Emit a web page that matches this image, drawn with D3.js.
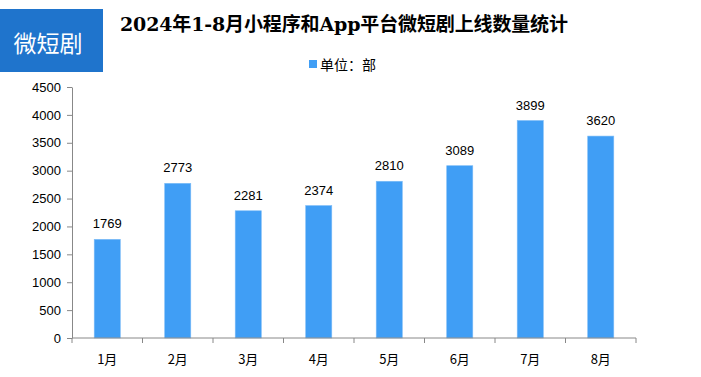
<!DOCTYPE html>
<html>
<head>
<meta charset="utf-8">
<script src="https://cdn.jsdelivr.net/npm/d3@7"></script>
<style>
  body { margin: 0; background: #fff; }
  svg { display: block; }
</style>
</head>
<body>
<script>
const months = ['1月', '2月', '3月', '4月', '5月', '6月', '7月', '8月'];
const counts = [1769, 2773, 2281, 2374, 2810, 3089, 3899, 3620];
const yTicks = [0, 500, 1000, 1500, 2000, 2500, 3000, 3500, 4000, 4500];
const titleText = '2024年1-8月小程序和App平台微短剧上线数量统计';
const badgeText = '微短剧';
const legendText = '单位：部';

let width = 701;
let height = 377;
let margin = {top: 87, right: 65, bottom: 39, left: 72};

let svg = d3.select('body').append('svg').attr('width', width).attr('height', height);

// blue badge top-left
svg.append('rect').attr('x', 0).attr('y', 9).attr('width', 103).attr('height', 63).attr('fill', '#1f74cc');
svg.append('text')
  .attr('x', 48).attr('y', 42)
  .attr('text-anchor', 'middle').attr('dominant-baseline', 'central')
  .attr('fill', '#fff')
  .style('font-family', '"Noto Sans CJK SC", sans-serif')
  .style('font-size', '23px')
  .text(badgeText);

// title
svg.append('text')
  .attr('x', 120).attr('y', 31)
  .attr('textLength', 448)
  .style('font-family', '"DejaVu Serif", "Noto Sans CJK SC", serif')
  .style('font-size', '19px')
  .style('font-weight', 'bold')
  .attr('fill', '#000')
  .text(titleText);

// legend
svg.append('rect').attr('x', 309).attr('y', 60).attr('width', 8).attr('height', 8).attr('fill', '#409ef5');
svg.append('text')
  .attr('x', 320).attr('y', 64)
  .attr('dominant-baseline', 'central')
  .style('font-family', '"Noto Sans CJK SC", sans-serif')
  .style('font-size', '14px')
  .attr('fill', '#000')
  .text(legendText);

let x = d3.scaleBand().domain(months).range([margin.left, width - margin.right]).paddingInner(0.63).paddingOuter(0.315);
let y = d3.scaleLinear().domain([0, 4500]).range([height - margin.bottom, margin.top]);

let g = svg.append('g');

// bars
g.selectAll('rect.bar')
  .data(counts)
  .enter()
    .append('rect')
    .attr('class', 'bar')
    .attr('x', (d, i) => x(months[i]))
    .attr('y', d => y(d))
    .attr('width', x.bandwidth())
    .attr('height', d => y(0) - y(d))
    .attr('fill', '#409ef5')
    .attr('stroke', '#7cbcf7')
    .attr('stroke-width', 0.6);

// value labels
g.selectAll('text.val')
  .data(counts)
  .enter()
    .append('text')
    .attr('class', 'val')
    .attr('x', (d, i) => x(months[i]) + x.bandwidth() / 2)
    .attr('y', d => y(d) - 11)
    .attr('text-anchor', 'middle')
    .style('font-family', 'Arial, "Liberation Sans", sans-serif')
    .style('font-size', '13px')
    .attr('fill', '#000')
    .text(d => d);

// y axis
let yAxis = d3.axisLeft(y).tickValues(yTicks).tickFormat(d3.format('d')).tickSize(5).tickPadding(6).tickSizeOuter(0);
let yg = svg.append('g').attr('transform', `translate(${margin.left},0)`).call(yAxis);
yg.select('.domain').attr('stroke', '#888');
yg.selectAll('.tick line').attr('stroke', '#888');
yg.selectAll('.tick text')
  .style('font-family', 'Arial, "Liberation Sans", sans-serif')
  .style('font-size', '13px')
  .attr('fill', '#000');

// x axis with ticks between categories
let step = x.step();
let xg = svg.append('g').attr('transform', `translate(0,${y(0)})`);
xg.append('line')
  .attr('x1', margin.left).attr('x2', width - margin.right)
  .attr('stroke', '#888');
xg.selectAll('line.tk')
  .data(d3.range(months.length + 1))
  .enter()
    .append('line')
    .attr('class', 'tk')
    .attr('x1', i => margin.left + i * step)
    .attr('x2', i => margin.left + i * step)
    .attr('y1', 0).attr('y2', 5)
    .attr('stroke', '#888');
xg.selectAll('text')
  .data(months)
  .enter()
    .append('text')
    .attr('x', d => x(d) + x.bandwidth() / 2)
    .attr('y', 20)
    .attr('dominant-baseline', 'central')
    .attr('text-anchor', 'middle')
    .style('font-family', '"Noto Sans CJK SC", sans-serif')
    .style('font-size', '13px')
    .attr('fill', '#000')
    .text(d => d);
</script>
</body>
</html>
